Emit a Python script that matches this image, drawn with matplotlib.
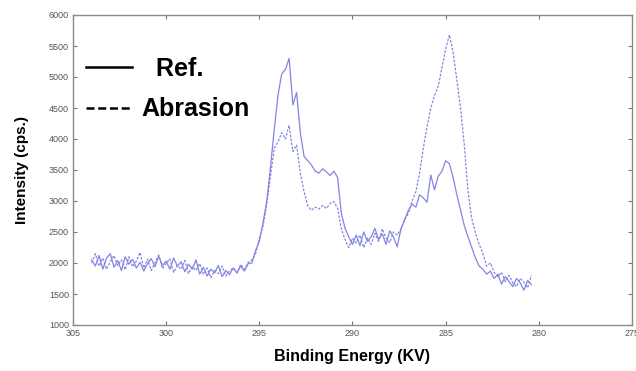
import numpy as np
import matplotlib
matplotlib.use("Agg")
import matplotlib.pyplot as plt
from matplotlib.lines import Line2D

plt.rcParams['font.family'] = ['Liberation Sans', 'DejaVu Sans']

# Binding energy grid (eV), 304.0 down to 280.4 in 0.2 steps
energy = np.round(np.linspace(304.0, 280.4, 119), 1)

ref = [
    2050, 1950, 2120, 1900, 2080, 2150, 1930, 2040, 1880, 2100,
    1980, 2060, 1920, 2010, 1870, 1990, 2070, 1940, 2110, 1960,
    2030, 1900, 2080, 1950, 2020, 1860, 1980, 1900, 2050, 1820,
    1930, 1790, 1900, 1840, 1960, 1780, 1880, 1810, 1920, 1840,
    1950, 1870, 1990,
    2000, 2200, 2350, 2650, 3000, 3550, 4150, 4700, 5050, 5120,
    5300, 4550, 4750, 4100, 3720, 3650, 3580, 3480, 3450, 3520,
    3470, 3410, 3480, 3380, 2800, 2560, 2420, 2300,
    2450, 2280, 2500, 2350, 2420, 2560, 2380, 2470, 2300, 2520,
    2420, 2260, 2550, 2700, 2850,
    2950, 2900, 3100, 3050, 2980, 3420, 3180, 3400, 3480, 3650,
    3600, 3380, 3100, 2850, 2600, 2420, 2250, 2080, 1950, 1900,
    1820, 1870, 1750, 1820, 1660, 1780, 1700, 1620, 1750, 1680,
    1560, 1720, 1650,
]

abrasion = [
    2000, 2150, 1950, 2080, 1900, 2020, 2120, 1960, 2050, 1890,
    2100, 1940, 2030, 2170, 1920, 2060, 1880, 2000, 2130, 1910,
    1990, 2070, 1850, 1960, 1900, 2040, 1830, 1940, 1880, 1990,
    1820, 1920, 1760, 1880, 1830, 1950, 1790, 1870, 1920, 1840,
    1980, 1900, 2010,
    2050, 2150, 2400, 2600, 2950, 3400, 3850, 3950, 4100, 4000,
    4220, 3800, 3900, 3450, 3150, 2920, 2850, 2900, 2870, 2930,
    2880, 2960, 2990, 2880, 2550, 2380, 2250, 2400,
    2320, 2450, 2250, 2400, 2300, 2480, 2350, 2550, 2400, 2330,
    2500, 2450, 2550, 2700, 2800,
    3000, 3150, 3450, 3850, 4200, 4500, 4700, 4850, 5150, 5450,
    5680, 5400, 4950, 4500, 3900, 3150, 2720, 2480, 2300, 2150,
    1950, 2000, 1850, 1780, 1850, 1700, 1800, 1680, 1620, 1750,
    1690, 1600, 1800,
]

x_ticks = [305, 300, 295, 290, 285, 280, 275]
y_ticks = [1000, 1500, 2000, 2500, 3000, 3500, 4000, 4500, 5000, 5500, 6000]
legend_labels = ["  Ref.", "Abrasion"]

W, H = 636, 371
fig = plt.figure(figsize=(W / 100, H / 100), dpi=100)
ax = fig.add_axes([73 / W, 1 - 325 / H, (632 - 73) / W, (325 - 15) / H])

line_color = '#8484e4'
ax.plot(energy, ref, color=line_color, lw=0.9, ls='-')
ax.plot(energy, abrasion, color=line_color, lw=0.9, ls=(0, (2, 1.2)))

ax.set_xlim(305, 275)
ax.set_ylim(1000, 6000)
ax.set_xticks(x_ticks)
ax.set_yticks(y_ticks)
ax.set_xticklabels([str(t) for t in x_ticks])
ax.set_yticklabels([str(t) for t in y_ticks])
ax.tick_params(direction='in', top=True, right=True, length=3, width=0.8,
               colors='#777777', labelsize=6.5, labelcolor='#555555', pad=3)
for s in ax.spines.values():
    s.set_color('#8a8a8a')
    s.set_linewidth(1.0)

ax.set_xlabel("Binding Energy (KV)", fontsize=11.5, fontweight='bold', labelpad=8)
ax.set_ylabel("Intensity (cps.)", fontsize=11, fontweight='bold', labelpad=14)

handles = [Line2D([0], [0], color='black', lw=1.8, ls='-'),
           Line2D([0], [0], color='black', lw=1.8, ls=(0, (3.2, 1.5)))]
leg = ax.legend(handles, legend_labels, loc='upper left', bbox_to_anchor=(0.0, 0.906),
                frameon=False, prop={'size': 18, 'weight': 'bold'},
                handlelength=1.85, handletextpad=0.4, labelspacing=0.67,
                borderaxespad=0.3, borderpad=0.2)

fig.savefig("out.png", dpi=100)
